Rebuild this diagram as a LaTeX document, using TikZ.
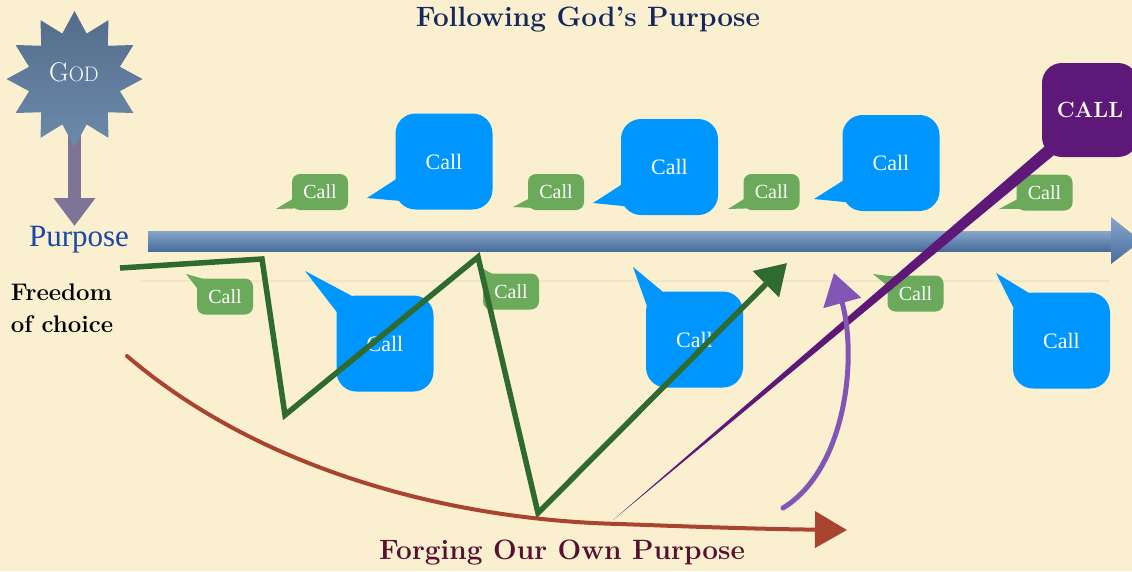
\documentclass[tikz,border=0pt]{standalone}
\usepackage{fontspec}
\newfontfamily\callfont{Liberation Serif}
\usetikzlibrary{arrows.meta,calc}
\definecolor{bgcol}{HTML}{FAF0D0}
\definecolor{calblue}{HTML}{0096FF}
\definecolor{calgreen}{HTML}{6AAA5A}
\definecolor{zigcol}{HTML}{2F6A2F}
\definecolor{redcol}{HTML}{A84430}
\definecolor{parrow}{HTML}{8256B4}
\definecolor{callpurple}{HTML}{5E1878}
\definecolor{godarrow}{HTML}{7E7498}
\definecolor{startop}{HTML}{546C8C}
\definecolor{starbot}{HTML}{6C8AAA}
\definecolor{titleblue}{HTML}{14285E}
\definecolor{forgecol}{HTML}{581030}
\definecolor{purposecol}{HTML}{1848A8}
\definecolor{arrtop}{HTML}{86A6CA}
\definecolor{arrbot}{HTML}{4A6C9C}
\begin{document}
\begin{tikzpicture}[x=1pt,y=-1pt,
  bluecall/.style={rectangle, rounded corners=20pt, fill=calblue, text=white,
    minimum width=97pt, minimum height=96pt, inner sep=0pt,
    font=\callfont\fontsize{22}{22}\selectfont},
  greencall/.style={rectangle, rounded corners=8pt, fill=calgreen, text=white,
    minimum width=56pt, minimum height=36pt, inner sep=0pt,
    font=\callfont\fontsize{20}{20}\selectfont},
  bluetail/.style={fill=calblue},
  greentail/.style={fill=calgreen},
  zigline/.style={draw=zigcol, line width=5.5pt, line join=miter,
    -{Triangle[length=30pt,width=36pt]}},
  redline/.style={draw=redcol, line width=4pt, line cap=round,
    -{Triangle[length=32pt,width=36pt]}},
  purpleline/.style={draw=parrow, line width=5pt, line cap=round,
    -{Triangle[length=31pt,width=38pt]}},
  godline/.style={draw=godarrow, line width=13pt,
    -{Triangle[length=28pt,width=40pt]}}
]
\useasboundingbox (0,0) rectangle (1132,571);
\clip (0,0) rectangle (1132,571);
\fill[bgcol] (0,0) rectangle (1132,571);

% titles
\node[font=\fontsize{28}{30}\selectfont\bfseries, text=titleblue] (title) at (588,20) {Following God’s Purpose};
\node[font=\fontsize{28}{30}\selectfont\bfseries, text=forgecol] (forging) at (562,553) {Forging Our Own Purpose};

% God arrow (behind star)
\coordinate (godfoot) at (74.5,100);
\coordinate (purtop) at (74.5,226);
\draw[godline] (godfoot) -- (purtop);

% God star
\shade[top color=startop, bottom color=starbot]
  plot[samples=24, domain=0:23]
  ({74.5+(mod(\x,2)==0 ? 68 : 47)*cos(90+15*\x)}, {79+(mod(\x,2)==0 ? 68 : 47)*sin(90+15*\x)}) -- cycle;
\node[text=white, inner sep=0pt] (god) at (74,72)
  {\fontsize{27}{27}\selectfont G\fontsize{21}{21}\selectfont OD};

\node[font=\callfont\fontsize{31}{31}\selectfont, text=purposecol, inner sep=0pt] (purpose) at (79,240) {Purpose};
\node[font=\fontsize{24}{32}\selectfont\bfseries, align=left, inner sep=0pt] (freedom) at (62,308) {Freedom\\of choice};

% main horizontal arrow
\shade[top color=arrtop, bottom color=arrbot] (148,231) rectangle (1113,251);
\shade[top color=arrtop, bottom color=arrbot] (1111,217) -- (1141,241) -- (1111,264) -- cycle;
\draw[black, opacity=0.04, line width=2pt] (140,281) -- (1110,281);

% green callouts
\node[greencall] (g1) at (320,192) {Call};
\node[greencall] (g2) at (556,192) {Call};
\node[greencall] (g3) at (771.5,192) {Call};
\node[greencall] (g4) at (1044.5,192.5) {Call};
\node[greencall] (g5) at (225,296.5) {Call};
\node[greencall] (g6) at (511,291.5) {Call};
\node[greencall] (g7) at (915.5,293.5) {Call};
\coordinate (tg1) at (276,209);
\coordinate (tg2) at (513,207);
\coordinate (tg3) at (728,209);
\coordinate (tg4) at (999,209);
\coordinate (tg5) at (186,274);
\coordinate (tg6) at (478,266);
\coordinate (tg7) at (873,274);
\foreach \n in {1,2,3,4}{
  \fill[greentail] ($(g\n.south west)+(2,-12)$) -- (tg\n) -- ($(g\n.south west)+(11,-2)$) -- cycle;
}
\foreach \n in {5,6,7}{
  \fill[greentail] ($(g\n.north west)+(2,12)$) -- (tg\n) -- ($(g\n.north west)+(12,2)$) -- cycle;
}

% blue callouts
\node[bluecall] (b1) at (444,161.5) {Call};
\node[bluecall] (b2) at (669.5,167) {Call};
\node[bluecall] (b3) at (891,163) {Call};
\node[bluecall] (b4) at (385,343.5) {Call};
\node[bluecall] (b5) at (694.5,339.5) {Call};
\node[bluecall] (b6) at (1061.5,340.5) {Call};
\coordinate (tb1) at (367,198);
\coordinate (tb2) at (593,203);
\coordinate (tb3) at (814,199);
\coordinate (tb4) at (305,271);
\coordinate (tb5) at (633,267);
\coordinate (tb6) at (996,273);
\foreach \n in {1,2,3}{
  \fill[bluetail] ($(b\n.south west)+(3,-32)$) -- (tb\n) -- ($(b\n.south west)+(14,-8)$) -- cycle;
}
\foreach \n in {4,5,6}{
  \fill[bluetail] ($(b\n.north west)+(3,20)$) -- (tb\n) -- ($(b\n.north west)+(20,3)$) -- cycle;
}

% green zigzag
\coordinate (z0) at (120,268);
\coordinate (z1) at (262,259);
\coordinate (z2) at (285,415);
\coordinate (z3) at (478,257);
\coordinate (z4) at (538,513);
\coordinate (z5) at (787,263);
\draw[zigline] (z0) -- (z1) -- (z2) -- (z3) -- (z4) -- (z5);

% red curve
\coordinate (r0) at (127,356);
\coordinate (r1) at (620,524);
\coordinate (r2) at (847,530);
\draw[redline] (r0) .. controls (260,470) and (450,520) .. (r1) .. controls (700,527) and (760,529) .. (r2);

% purple wedge line to CALL
\coordinate (wtip) at (613,520);
\coordinate (wend) at (1062,140);
\fill[callpurple] (wtip) -- ($(wend)!6.5pt!90:(wtip)$) -- ($(wend)!6.5pt!-90:(wtip)$) -- cycle;

% purple arrow
\coordinate (p0) at (783,508);
\coordinate (p1) at (834,273);
\draw[purpleline] (p0) .. controls (845,470) and (858,360) .. (p1);

% CALL box
\node[rectangle, rounded corners=20pt, fill=callpurple, text=white, minimum width=96pt,
  minimum height=94pt, inner sep=0pt, font=\fontsize{22}{22}\selectfont\bfseries] (callbox) at (1090,110) {CALL};
\end{tikzpicture}
\end{document}
